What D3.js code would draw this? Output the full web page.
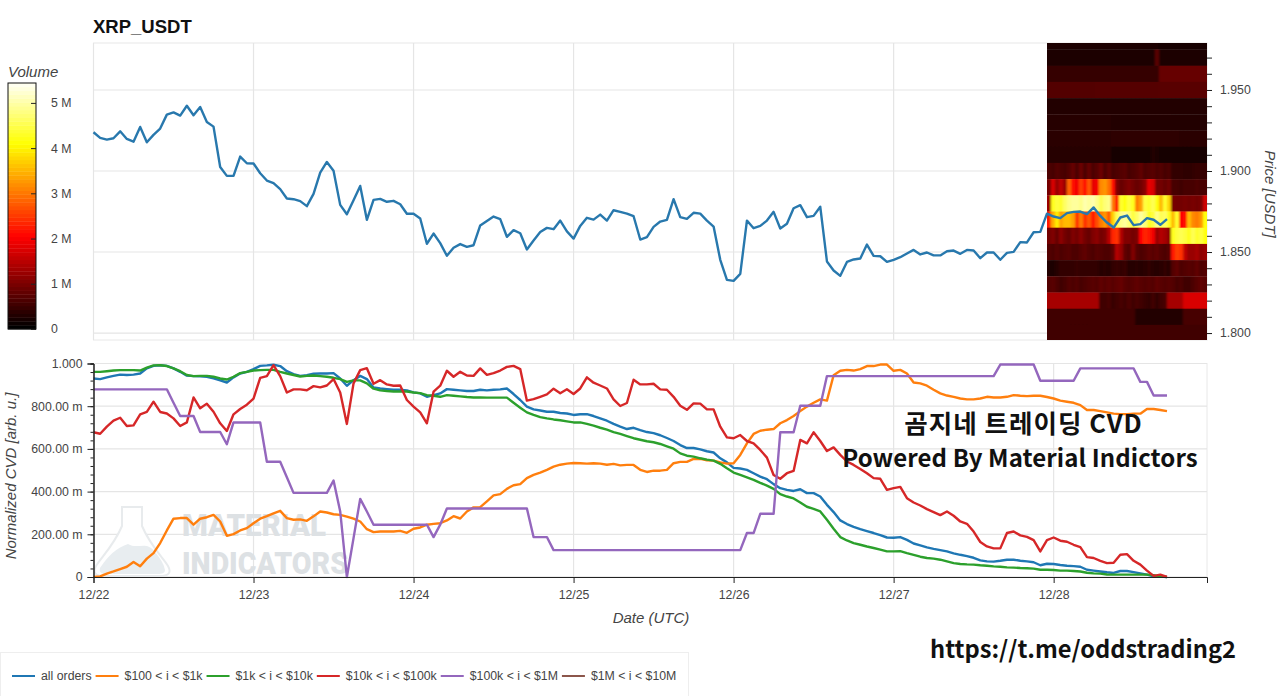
<!DOCTYPE html>
<html>
<head>
<meta charset="utf-8">
<script src="https://cdn.jsdelivr.net/npm/d3@7"></script>
<style>
  html, body { margin: 0; padding: 0; background: #fff; }
  svg { display: block; font-family: "Liberation Sans", Arial, sans-serif; }
  .tick text { fill: #444; font-size: 12.3px; }
  .axis-title { fill: #444; font-size: 15px; font-style: italic; }
</style>
</head>
<body>
<div id="chart"></div>
<script>
// Hourly readings, one value per hour from 12/22 00:00
const priceValues = [
  1.9239,1.9204,1.9194,1.9202,1.9245,1.9198,1.9181,1.9272,1.9177,1.9223,1.9262,1.9348,1.9362,1.9342,1.9403,1.9344,1.9395,1.9303,1.9274,1.9025,1.8970,1.8970,1.9089,1.9048,
  1.9046,1.8986,1.8941,1.8925,1.8888,1.8830,1.8826,1.8814,1.8783,1.8859,1.8990,1.9056,1.9001,1.8791,1.8733,1.8820,1.8908,1.8699,1.8822,1.8828,1.8810,1.8816,1.8795,1.8736,
  1.8736,1.8707,1.8551,1.8614,1.8555,1.8477,1.8526,1.8549,1.8532,1.8542,1.8664,1.8692,1.8719,1.8703,1.8594,1.8635,1.8616,1.8516,1.8571,1.8623,1.8649,1.8641,1.8694,1.8627,
  1.8583,1.8661,1.8711,1.8700,1.8731,1.8694,1.8758,1.8748,1.8737,1.8721,1.8577,1.8592,1.8655,1.8688,1.8698,1.8826,1.8715,1.8705,1.8742,1.8737,1.8694,1.8657,1.8452,1.8328,
  1.8322,1.8365,1.8694,1.8647,1.8661,1.8694,1.8748,1.8645,1.8674,1.8770,1.8789,1.8715,1.8723,1.8779,1.8442,1.8386,1.8353,1.8439,1.8454,1.8460,1.8546,1.8476,1.8474,1.8439,
  1.8452,1.8468,1.8491,1.8513,1.8485,1.8497,1.8479,1.8479,1.8505,1.8509,1.8489,1.8513,1.8509,1.8462,1.8497,1.8497,1.8452,1.8495,1.8501,1.8561,1.8559,1.8622,1.8624,1.8737,
  1.8719,1.8709,1.8740,1.8748,1.8750,1.8734,1.8775,1.8723,1.8682,1.8651,1.8713,1.8725,1.8666,1.8672,1.8709,1.8699,1.8668,1.8703
];

const allOrders = [
  .930,.927,.935,.942,.948,.946,.948,.953,.977,.989,.992,.989,.977,.961,.943,.941,.940,.938,.930,.921,.911,.935,.953,.961,
  .974,.989,.991,.994,.988,.964,.950,.942,.945,.952,.953,.953,.955,.930,.896,.922,.942,.927,.888,.883,.880,.877,.877,.874,.865,.860,
  .844,.852,.860,.880,.877,.874,.871,.871,.877,.874,.877,.879,.883,.857,.829,.798,.785,.780,.774,.774,.768,.766,.759,.762,.763,.754,
  .743,.732,.717,.704,.693,.699,.688,.679,.674,.664,.651,.637,.618,.604,.604,.598,.589,.583,.556,.537,.511,
  .508,.502,.486,.470,.458,.435,.416,.408,.403,.411,.393,.393,.377,.338,.304,.265,.248,.235,.224,.215,.206,.196,.185,.184,.187,
  .174,.157,.148,.139,.132,.126,.120,.111,.104,.098,.090,.078,.073,.072,.076,.081,.081,.076,.073,.069,.055,.062,.061,.056,.053,.051,
  .048,.034,.030,.026,.022,.019,.028,.028,.023,.017,.011,.003,.002,0
];
const orders100to1k = [
  0,.003,.016,.026,.037,.048,.070,.050,.086,.112,.159,.218,.273,.276,.276,.245,.273,.280,.291,.260,.193,.201,.218,.229,
  .252,.273,.285,.298,.310,.276,.268,.270,.263,.284,.307,.302,.294,.291,.283,.273,.260,.224,.210,.213,.213,.213,.216,.207,.226,.232,
  .245,.249,.252,.265,.285,.274,.307,.326,.327,.354,.382,.388,.413,.430,.435,.463,.478,.489,.502,.517,.526,.531,.534,.533,.531,.533,
  .531,.526,.530,.523,.525,.525,.502,.492,.498,.498,.502,.533,.539,.539,.553,.553,.547,.545,.537,.531,.533,
  .572,.626,.670,.685,.690,.693,.720,.735,.754,.777,.798,.816,.832,.826,.945,.966,.970,.967,.974,.988,.988,.995,.995,.966,.970,
  .953,.911,.907,.896,.877,.860,.850,.844,.836,.832,.832,.836,.844,.841,.841,.844,.852,.849,.847,.849,.849,.843,.836,.826,.821,.816,
  .805,.782,.782,.777,.771,.765,.763,.763,.765,.765,.787,.787,.782,.777
];
const orders1kto10k = [
  .961,.961,.964,.967,.969,.969,.969,.967,.981,.991,.992,.988,.977,.964,.946,.941,.942,.942,.938,.930,.925,.938,.955,.961,
  .967,.969,.970,.970,.961,.953,.946,.939,.942,.944,.941,.938,.933,.927,.914,.921,.921,.907,.882,.874,.871,.869,.869,.869,.864,.861,
  .852,.849,.844,.852,.849,.846,.843,.841,.841,.840,.840,.840,.840,.816,.793,.771,.759,.749,.743,.738,.734,.729,.724,.724,.717,.709,
  .699,.690,.679,.670,.660,.650,.643,.636,.631,.623,.612,.601,.579,.568,.564,.556,.550,.545,.530,.509,.489,
  .478,.467,.455,.441,.428,.413,.388,.377,.368,.349,.329,.319,.307,.268,.226,.187,.171,.159,.151,.143,.136,.128,.120,.120,.121,
  .112,.104,.095,.089,.086,.081,.073,.065,.061,.059,.058,.055,.053,.050,.048,.045,.044,.042,.041,.039,.034,.034,.033,.030,.030,.028,
  .026,.020,.017,.016,.012,.011,.011,.011,.011,.011,.011,.008,.003,0
];
const orders10kto100k = [
  .678,.671,.704,.732,.746,.707,.710,.762,.773,.821,.773,.766,.743,.707,.724,.841,.790,.812,.774,.720,.684,.762,.787,.807,
  .836,.933,.941,.992,.941,.864,.879,.879,.875,.894,.888,.897,.927,.864,.717,.907,.969,.978,.905,.922,.902,.896,.897,.829,.798,.771,
  .720,.868,.896,.966,.938,.961,.944,.942,.977,.947,.955,.967,.984,.989,.974,.826,.833,.844,.855,.882,.861,.879,.857,.883,.935,.910,
  .897,.883,.832,.801,.815,.924,.902,.902,.905,.879,.877,.844,.802,.783,.813,.812,.785,.785,.704,.654,.650,
  .665,.637,.626,.595,.559,.478,.460,.486,.497,.642,.626,.678,.637,.590,.607,.572,.541,.525,.506,.486,.463,.460,.408,.416,.422,
  .369,.349,.335,.318,.304,.290,.307,.287,.260,.249,.213,.164,.143,.134,.134,.206,.213,.195,.188,.173,.120,.173,.185,.170,.165,.151,
  .140,.093,.089,.076,.065,.067,.104,.107,.076,.058,.030,.005,.011,0
];
const orders100kto1M = [
  .879,.879,.879,.879,.879,.879,.879,.879,.879,.879,.879,.879,.816,.754,.754,.754,.679,.679,.679,.679,.622,.724,.724,.724,
  .724,.724,.540,.540,.540,.467,.394,.394,.394,.394,.394,.394,.452,.307,0,.182,.366,.307,.245,.245,.245,.245,.245,.245,.245,.245,
  .245,.187,.245,.321,.321,.321,.321,.321,.321,.321,.321,.321,.321,.321,.321,.321,.187,.187,.187,.126,.126,.126,.126,.126,.126,.126,
  .126,.126,.126,.126,.126,.126,.126,.126,.126,.126,.126,.126,.126,.126,.126,.126,.126,.126,.126,.126,.126,
  .126,.206,.206,.296,.296,.296,.678,.678,.678,.802,.802,.802,.802,.941,.941,.941,.941,.941,.941,.941,.941,.941,.941,.941,.941,
  .941,.941,.941,.941,.941,.941,.941,.941,.941,.941,.941,.941,.941,.941,.995,.995,.995,.995,.995,.995,.919,.919,.919,.919,.919,.919,
  .977,.977,.977,.977,.977,.977,.977,.977,.977,.914,.914,.850,.850,.850
];
const cvdNames = ["all orders", "$100 < i < $1k", "$1k < i < $10k", "$10k < i < $100k", "$100k < i < $1M", "$1M < i < $10M"];
const cvdSeries = [allOrders, orders100to1k, orders1kto10k, orders10kto100k, orders100kto1M, []];
const cvdColors = ["#1f77b4", "#ff7f0e", "#2ca02c", "#d62728", "#9467bd", "#8c564b"];

// Volume heatmap in millions, rows are price bins, 40 time columns each
const heatPrices = [1.98,1.97,1.96,1.95,1.94,1.93,1.92,1.91,1.90,1.89,1.88,1.87,1.86,1.85,1.84,1.83,1.82,1.81,1.80];
const heat198 = [.2,.2,.2,.2,.2,.2,.2,.2,.2,.2,.2,.2,.2,.2,.2,.2,.2,.2,.2,.2,.2,.2,.2,.2,.2,.2,.2,.2,.18,.18,.18,.18,.18,.18,.18,.18,.18,.18,.18,.18];
const heat197 = [.2,.2,.2,.2,.2,.2,.2,.2,.2,.2,.2,.2,.2,.2,.2,.2,.2,.2,.2,.2,.2,.2,.2,.2,.2,.2,.2,.7,.2,.2,.2,.2,.2,.2,.2,.2,.2,.2,.2,.2];
const heat196 = [.42,.42,.42,.42,.42,.42,.42,.42,.42,.42,.42,.42,.42,.42,.42,.42,.42,.42,.42,.42,.42,.42,.42,.42,.42,.42,.42,.42,.8,.8,.8,.8,.8,.8,.8,.8,.8,.8,.8,.8];
const heat195 = [.65,.65,.65,.65,.65,.65,.65,.65,.65,.65,.65,.65,.66,.66,.66,.66,.66,.66,.66,.66,.66,.66,.66,.66,.66,.66,.66,.66,.7,.7,.7,.7,.7,.7,.7,.7,.7,.7,.7,.7];
const heat194 = [.25,.25,.25,.25,.25,.25,.25,.25,.25,.25,.25,.25,.25,.25,.25,.25,.25,.25,.25,.25,.27,.27,.27,.27,.27,.27,.27,.27,.27,.27,.27,.25,.25,.25,.25,.25,.25,.25,.25,.25];
const heat193 = [.3,.3,.3,.3,.3,.3,.3,.3,.3,.3,.3,.3,.3,.3,.3,.3,.28,.28,.28,.28,.28,.28,.28,.28,.28,.28,.28,.28,.28,.28,.28,.26,.26,.26,.26,.26,.26,.26,.26,.26];
const heat192 = [.34,.34,.34,.34,.34,.34,.34,.34,.34,.34,.34,.34,.34,.34,.34,.34,.36,.36,.36,.36,.36,.36,.36,.36,.36,.36,.36,.36,.36,.36,.36,.36,.36,.34,.34,.34,.34,.34,.34,.34];
const heat191 = [.3,.3,.3,.3,.3,.3,.3,.3,.3,.3,.3,.3,.3,.3,.3,.3,.16,.16,.16,.16,.16,.16,.16,.16,.16,.16,.26,.22,.18,.18,.18,.18,.18,.18,.18,.18,.18,.18,.18,.18];
const heat190 = [.6,.55,.65,.6,.55,.65,.8,.6,.85,.6,.8,.6,.7,.85,.6,.75,.55,.6,.65,.7,.55,.6,.65,.75,.6,.65,.7,.6,.65,.55,.6,.4,.4,.4,.35,.35,.4,.42,.42,.42];
const heat189 = [.9,1.7,1.2,1.5,1.2,2.8,2.1,1.9,2.5,2.1,2.7,1.8,1.9,3.1,3.2,2.9,2.1,1.0,.8,.9,1.0,.9,.8,.9,1.1,1.8,1.7,.9,.9,.8,.9,.55,.55,.5,.55,.55,.55,.6,.55,.55];
const heat188 = [1.2,4.2,4.4,4.3,4.6,4.8,4.9,4.9,4.8,5.0,4.9,5.0,4.8,4.5,4.7,4.8,3.0,2.2,4.3,4.1,4.4,4.2,3.0,3.3,4.4,4.3,4.5,4.1,3.5,4.3,3.7,.95,.9,.9,.95,.9,.95,.9,.95,1.6];
const heat187 = [2.2,3.4,3.9,3.3,3.5,3.5,3.3,2.4,3.0,2.4,2.7,2.2,2.6,3.0,3.2,2.7,3.7,4.5,4.8,4.9,4.7,4.4,4.6,4.9,4.7,4.2,4.4,4.8,4.5,4.6,4.2,3.5,4.3,2.0,2.1,3.5,3.1,3.0,3.2,4.1];
const heat186 = [.9,1.0,.8,1.1,.9,.8,1.0,.9,1.1,.9,.8,1.0,1.1,.9,1.0,1.4,2.3,2.4,1.4,1.0,1.0,.9,1.0,2.0,2.3,2.2,1.9,1.2,1.4,1.3,1.1,4.2,4.4,4.5,4.4,4.2,4.5,4.3,4.4,4.1];
const heat185 = [.65,.6,.7,.6,.65,.7,.6,.6,.7,.75,.65,.6,.7,.65,.6,.6,.75,1.4,1.2,.75,.65,1.0,.7,.6,.65,.75,.7,.75,.65,.6,.7,2.2,2.5,2.4,1.5,1.2,1.2,1.3,1.1,1.2];
const heat184 = [.25,.2,.3,.4,.4,.38,.4,.45,.4,.38,.4,.4,.38,.3,.32,.3,.4,.45,.4,.45,.3,.3,.32,.3,.32,.38,.32,.3,.32,.38,.32,.65,.75,.6,.65,.7,.65,.75,.6,.65];
const heat183 = [.65,.7,.6,.5,.55,.65,.6,.65,.55,.6,.65,.7,.65,.75,.7,.75,.7,.75,.8,.7,.65,.7,.75,.7,.65,.7,.65,.75,.7,.65,.7,.65,.55,.6,.5,.5,.6,.7,.75,.7];
const heat182 = [1.3,1.3,1.3,1.3,1.3,1.3,1.3,1.3,1.3,1.3,1.3,1.3,1.3,.5,.5,.55,.45,.5,.55,.5,.6,.5,.55,.5,.45,.4,.5,.4,.5,.55,1.3,1.3,1.3,1.3,1.7,1.7,1.7,1.7,1.7,1.7];
const heat181 = [.5,.5,.5,.5,.5,.5,.5,.5,.5,.5,.5,.5,.5,.5,.5,.5,.5,.5,.5,.5,.5,.5,.28,.28,.28,.28,.28,.28,.28,.28,.28,.28,.28,.28,.55,.55,.55,.55,.55,.55];
const heat180 = [.5,.5,.5,.5,.5,.5,.5,.5,.5,.5,.5,.5,.5,.5,.5,.5,.5,.5,.5,.5,.5,.5,.5,.5,.5,.5,.5,.5,.5,.5,.5,.5,.5,.5,.5,.5,.5,.5,.5,.5];
const heatRows = [heat198,heat197,heat196,heat195,heat194,heat193,heat192,heat191,heat190,heat189,heat188,heat187,heat186,heat185,heat184,heat183,heat182,heat181,heat180];

const priceTicks = [1.80, 1.85, 1.90, 1.95];
const priceMinorTicks = d3.range(1.80, 1.975, 0.01);
const cvdTicks = [0, .2, .4, .6, .8, 1];
const cvdMinorTicks = d3.range(0, 1.001, 0.04);
const volumeTicks = [0, 1, 2, 3, 4, 5];

const width = 1280, height = 696;
const plotLeft = 93.5, plotRight = 1207;
const topPanel = {top: 43, bottom: 340};
const lowPanel = {top: 363.5, bottom: 577};
const startTime = Date.UTC(2025, 11, 22);
const hourMs = 3600000;
const timeOf = i => new Date(startTime + i * hourMs);

const svg = d3.select("#chart").append("svg").attr("width", width).attr("height", height);

const x = d3.scaleUtc().domain([timeOf(0), timeOf(167)]).range([plotLeft, plotRight]);
const yPrice = d3.scaleLinear().domain([1.7957, 1.979]).range([topPanel.bottom, topPanel.top]);
const yCvd = d3.scaleLinear().domain([0, 1]).range([lowPanel.bottom, lowPanel.top]);
const dayTicks = x.ticks(d3.utcDay.every(1));

// Hot colour map, the same one the colour bar shows
const hot = d3.scaleLinear().domain([0, 2, 4.05, 5.44]).range(["#000000", "#ff0000", "#ffff00", "#ffffff"]).clamp(true);

function drawPanel(panel, yScale, yTicks) {
    const g = svg.append("g");
    g.append("rect")
        .attr("x", plotLeft).attr("y", panel.top)
        .attr("width", plotRight - plotLeft).attr("height", panel.bottom - panel.top)
        .attr("fill", "#fff").attr("stroke", "#e8e8e8");
    g.selectAll(".gx").data(dayTicks).join("line")
        .attr("x1", d => x(d)).attr("x2", d => x(d))
        .attr("y1", panel.top).attr("y2", panel.bottom)
        .attr("stroke", "#e5e5e5").attr("stroke-width", 1.2);
    g.selectAll(".gy").data(yTicks).join("line")
        .attr("x1", plotLeft).attr("x2", plotRight)
        .attr("y1", d => yScale(d)).attr("y2", d => yScale(d))
        .attr("stroke", "#e5e5e5").attr("stroke-width", 1.2);
}

function drawWatermark() {
    const g = svg.append("g");
    g.append("path")
        .attr("d", "M122,507 L142,507 L142,526 C150,545 163,558 168,566 C172,573 168,576 160,576 L104,576 C96,576 92,573 96,566 C101,558 114,545 122,526 Z")
        .attr("fill", "#fff").attr("stroke", "#e8ebed").attr("stroke-width", 2);
    g.append("path")
        .attr("d", "M100,568 C108,556 116,548 128,544 C138,550 146,540 155,552 C160,558 164,564 165,570 C165,573 162,574 158,574 L106,574 C101,574 99,572 100,568 Z")
        .attr("fill", "#e8edf0");
    g.selectAll("text").data([["MATERIAL", 536, 144], ["INDICATORS", 574, 166]]).join("text")
        .attr("x", 182).attr("y", d => d[1])
        .attr("textLength", d => d[2]).attr("lengthAdjust", "spacingAndGlyphs")
        .attr("font-family", "Roboto").attr("font-weight", 900).attr("font-size", 32)
        .attr("fill", "#dde1e4")
        .text(d => d[0]);
}

function drawHeatmap() {
    const cols = d3.scaleLinear().domain([0, 40]).range([x(timeOf(143)), plotRight]);
    const defs = svg.append("defs");
    defs.append("clipPath").attr("id", "top-clip").append("rect")
        .attr("x", cols(0)).attr("y", topPanel.top)
        .attr("width", plotRight - cols(0)).attr("height", topPanel.bottom - topPanel.top);
    defs.append("filter").attr("id", "soft")
        .attr("x", "-5%").attr("y", "-5%").attr("width", "110%").attr("height", "110%")
        .append("feGaussianBlur").attr("stdDeviation", "0.8 0.5").attr("edgeMode", "duplicate");
    const g = svg.append("g").attr("clip-path", "url(#top-clip)")
        .append("g").attr("filter", "url(#soft)");
    heatRows.forEach((row, r) => {
        g.selectAll(null).data(row).join("rect")
            .attr("x", (d, c) => cols(c) - (c === 0 ? 3 : 0))
            .attr("width", (d, c) => cols(1) - cols(0) + 0.3 + (c === 0 || c === row.length - 1 ? 3 : 0))
            .attr("y", yPrice(heatPrices[r] + 0.005))
            .attr("height", yPrice(heatPrices[r] - 0.005) - yPrice(heatPrices[r] + 0.005) + 0.3)
            .attr("fill", d => hot(d));
    });
}

function drawLine(values, yScale, color) {
    const line = d3.line().x((d, i) => x(timeOf(i))).y(d => yScale(d));
    svg.append("path").datum(values)
        .attr("d", line).attr("fill", "none")
        .attr("stroke", color).attr("stroke-width", 2.4).attr("stroke-linejoin", "round");
}

function styleAxis(g) {
    g.selectAll("line").attr("stroke", "#222");
    g.selectAll(".domain").attr("stroke", "#222");
}

function drawAxes() {
    const right = svg.append("g").attr("transform", `translate(${plotRight},0)`);
    right.append("g").call(d3.axisRight(yPrice).tickValues(priceMinorTicks).tickSize(5).tickFormat(""))
        .call(styleAxis).select(".domain").remove();
    right.append("g").call(d3.axisRight(yPrice).tickValues(priceTicks).tickSize(5).tickPadding(8).tickFormat(d3.format(".3f")))
        .call(styleAxis).select(".domain").remove();

    const left = svg.append("g").attr("transform", `translate(${plotLeft},0)`);
    left.append("g").call(d3.axisLeft(yCvd).tickValues(cvdMinorTicks).tickSize(3).tickFormat("")).call(styleAxis);
    left.append("g")
        .call(d3.axisLeft(yCvd).tickValues(cvdTicks).tickSize(6).tickPadding(5)
            .tickFormat(d => d === 1 ? "1.000" : d === 0 ? "0" : d3.format(".2f")(d * 1000) + " m"))
        .call(styleAxis);

    svg.append("g").attr("transform", `translate(0,${lowPanel.bottom})`)
        .call(d3.axisBottom(x).tickValues(dayTicks).tickSize(6).tickPadding(7).tickFormat(d3.utcFormat("%m/%d")))
        .call(styleAxis);
}

function drawColorBar() {
    const bar = {left: 8, right: 36, top: 83, bottom: 329};
    const yVol = d3.scaleLinear().domain([0, 5.44]).range([bar.bottom, bar.top]);
    const steps = d3.range(0, 5.44, 5.44 / 64);
    svg.append("g").selectAll("rect").data(steps).join("rect")
        .attr("x", bar.left).attr("width", bar.right - bar.left)
        .attr("y", d => yVol(d + 5.44 / 64)).attr("height", d => yVol(d) - yVol(d + 5.44 / 64) + 0.4)
        .attr("fill", d => hot(d));
    svg.append("rect")
        .attr("x", bar.left).attr("y", bar.top)
        .attr("width", bar.right - bar.left).attr("height", bar.bottom - bar.top)
        .attr("fill", "none").attr("stroke", "#111").attr("stroke-width", 1);
    const ticks = svg.append("g").attr("transform", `translate(${bar.right},0)`)
        .call(d3.axisLeft(yVol).tickValues(volumeTicks).tickSize(5).tickFormat(d => d === 0 ? "0" : d + " M"))
        .call(styleAxis);
    ticks.select(".domain").remove();
    ticks.selectAll("text").attr("text-anchor", "start").attr("x", 15);
    svg.append("text").attr("class", "axis-title").attr("x", 8).attr("y", 77).text("Volume");
}

function drawLegend() {
    svg.append("rect")
        .attr("x", 0.5).attr("y", 652.5).attr("width", 688).attr("height", 50)
        .attr("fill", "#fff").attr("stroke", "#eee");
    let cursor = 12;
    cvdNames.forEach((name, i) => {
        svg.append("line")
            .attr("x1", cursor).attr("x2", cursor + 23).attr("y1", 676).attr("y2", 676)
            .attr("stroke", cvdColors[i]).attr("stroke-width", 2);
        const label = svg.append("text")
            .attr("x", cursor + 29).attr("y", 680)
            .attr("font-size", 12.3).attr("fill", "#444").text(name);
        cursor += 29 + label.node().getComputedTextLength() + 4;
    });
}

function drawTexts() {
    svg.append("text").attr("x", 93).attr("y", 33)
        .attr("font-size", 18.5).attr("font-weight", 700).attr("fill", "#111").text("XRP_USDT");
    svg.append("text").attr("class", "axis-title").attr("text-anchor", "middle")
        .attr("x", 651).attr("y", 623).text("Date (UTC)");
    svg.append("text").attr("class", "axis-title").attr("text-anchor", "middle")
        .attr("transform", "translate(16,476) rotate(-90)").text("Normalized CVD [arb. u.]");
    svg.append("text").attr("class", "axis-title").attr("text-anchor", "middle")
        .attr("transform", "translate(1265,194) rotate(90)").text("Price [USDT]");

    const note = svg.append("g")
        .attr("font-family", "'Noto Sans CJK KR', 'Noto Sans', sans-serif")
        .attr("font-weight", 700).attr("fill", "#111");
    note.append("text").attr("text-anchor", "middle").attr("x", 1023.5).attr("y", 433)
        .attr("font-size", 25.5).attr("letter-spacing", 1).text("곰지네 트레이딩 CVD");
    note.append("text").attr("text-anchor", "middle").attr("x", 1020).attr("y", 467)
        .attr("font-size", 24).attr("letter-spacing", 0.1).text("Powered By Material Indictors");
    note.append("text").attr("text-anchor", "middle").attr("x", 1083).attr("y", 658)
        .attr("font-size", 23.7).text("https://t.me/oddstrading2");
}

drawPanel(topPanel, yPrice, priceTicks);
drawPanel(lowPanel, yCvd, cvdTicks);
drawWatermark();
drawHeatmap();
drawLine(priceValues, yPrice, "#2878ad");
cvdSeries.forEach((values, i) => { if (values.length) drawLine(values, yCvd, cvdColors[i]); });
drawAxes();
drawColorBar();
drawLegend();
drawTexts();
</script>
</body>
</html>
